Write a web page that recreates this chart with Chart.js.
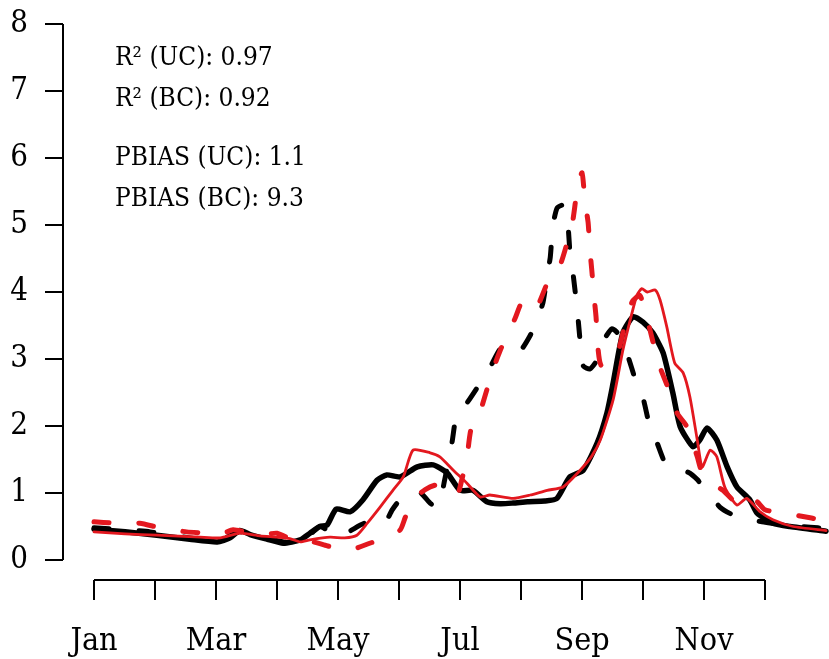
<!DOCTYPE html>
<html>
<head>
<meta charset="utf-8">
<script src="https://cdn.jsdelivr.net/npm/chart.js@4"></script>
<style>
  html, body { margin: 0; padding: 0; background: #fff; }
  #wrap { width: 829px; height: 659px; position: relative; }
</style>
</head>
<body>
<div id="wrap"><canvas id="flowChart"></canvas></div>
<script>
// month axis (x in months since Jan 1)
const monthLabels = ['Jan', 'Feb', 'Mar', 'Apr', 'May', 'Jun', 'Jul', 'Aug', 'Sep', 'Oct', 'Nov', 'Dec'];
const yTicks = [0, 1, 2, 3, 4, 5, 6, 7, 8];
const statLines = ['R\u00B2 (UC): 0.97', 'R\u00B2 (BC): 0.92', 'PBIAS (UC): 1.1', 'PBIAS (BC): 9.3'];

// black solid
const obsX = [0, 0.51, 1.03, 1.57, 2.02, 2.23, 2.39, 2.56, 2.84, 3.10, 3.38, 3.54, 3.70, 3.82, 3.97, 4.20, 4.41, 4.64, 4.80, 5.02, 5.30, 5.56, 5.79, 6.00, 6.21, 6.44, 6.66, 6.87, 7.11, 7.39, 7.59, 7.80, 8.02, 8.25, 8.41, 8.51, 8.67, 8.84, 9.00, 9.16, 9.33, 9.49, 9.61, 9.82, 9.93, 10.05, 10.21, 10.38, 10.54, 10.75, 10.87, 11.13, 11.41, 12.0];
const obsY = [0.46, 0.42, 0.37, 0.31, 0.27, 0.33, 0.44, 0.38, 0.31, 0.25, 0.30, 0.40, 0.50, 0.52, 0.76, 0.72, 0.90, 1.19, 1.27, 1.24, 1.39, 1.42, 1.30, 1.04, 1.04, 0.87, 0.84, 0.85, 0.87, 0.88, 0.92, 1.24, 1.34, 1.75, 2.20, 2.64, 3.39, 3.63, 3.55, 3.39, 3.09, 2.49, 1.99, 1.69, 1.79, 1.97, 1.79, 1.39, 1.09, 0.90, 0.70, 0.55, 0.50, 0.43];

// black dashed
const ucX = [0, 0.51, 0.92, 1.57, 2.02, 2.39, 2.84, 3.21, 3.54, 3.70, 3.87, 4.03, 4.23, 4.44, 4.74, 4.89, 5.02, 5.30, 5.51, 5.64, 5.75, 5.87, 5.95, 6.11, 6.33, 6.49, 6.66, 6.82, 6.98, 7.15, 7.26, 7.36, 7.43, 7.48, 7.52, 7.59, 7.69, 7.75, 7.80, 7.85, 7.92, 8.02, 8.13, 8.25, 8.34, 8.49, 8.62, 8.75, 8.89, 9.00, 9.11, 9.23, 9.36, 9.48, 9.61, 9.74, 9.89, 10.07, 10.26, 10.46, 10.70, 10.95, 11.36, 11.74, 12.0];
const ucY = [0.48, 0.45, 0.42, 0.33, 0.28, 0.42, 0.32, 0.26, 0.38, 0.50, 0.42, 0.34, 0.45, 0.55, 0.52, 0.75, 0.90, 1.04, 0.85, 0.78, 1.20, 1.76, 2.19, 2.34, 2.64, 2.87, 3.15, 3.22, 3.12, 3.35, 3.58, 3.84, 4.25, 4.52, 4.97, 5.25, 5.30, 5.22, 4.63, 4.30, 3.75, 2.90, 2.85, 2.99, 3.25, 3.45, 3.35, 3.05, 2.65, 2.42, 2.00, 1.75, 1.45, 1.36, 1.33, 1.31, 1.20, 1.00, 0.79, 0.68, 0.62, 0.57, 0.52, 0.49, 0.47];

// red dashed
const bcX = [0, 0.31, 0.51, 0.75, 1.08, 1.52, 1.85, 2.07, 2.28, 2.56, 2.80, 3.00, 3.33, 3.54, 3.79, 4.08, 4.28, 4.52, 4.80, 5.02, 5.10, 5.23, 5.43, 5.62, 5.87, 5.97, 6.03, 6.11, 6.18, 6.30, 6.44, 6.52, 6.66, 6.79, 6.90, 7.02, 7.15, 7.26, 7.44, 7.64, 7.77, 7.85, 7.92, 8.00, 8.05, 8.10, 8.13, 8.16, 8.20, 8.23, 8.26, 8.31, 8.46, 8.59, 8.70, 8.82, 8.95, 9.03, 9.11, 9.25, 9.41, 9.56, 9.72, 9.89, 9.97, 10.13, 10.31, 10.54, 10.70, 10.87, 11.0, 11.30, 11.74, 12.0];
const bcY = [0.57, 0.55, 0.52, 0.55, 0.48, 0.42, 0.40, 0.38, 0.45, 0.40, 0.38, 0.40, 0.27, 0.28, 0.22, 0.15, 0.17, 0.25, 0.34, 0.45, 0.63, 0.90, 1.05, 1.12, 0.97, 1.00, 1.20, 1.50, 1.95, 2.13, 2.54, 2.79, 3.13, 3.39, 3.60, 3.86, 3.88, 3.78, 4.15, 4.40, 4.78, 5.07, 5.52, 5.78, 5.34, 5.04, 4.63, 4.33, 3.91, 3.63, 3.18, 2.91, 2.92, 3.10, 3.50, 3.85, 3.95, 3.70, 3.45, 2.95, 2.57, 2.19, 1.99, 1.54, 1.30, 1.15, 1.04, 0.85, 0.93, 0.87, 0.75, 0.70, 0.63, 0.58];

// red solid (thin)
const bcObsX = [0, 0.51, 1.03, 1.74, 2.07, 2.39, 2.72, 3.00, 3.21, 3.38, 3.54, 3.87, 4.11, 4.31, 4.48, 4.69, 4.90, 5.07, 5.23, 5.51, 5.67, 5.89, 6.11, 6.33, 6.49, 6.87, 7.15, 7.43, 7.69, 7.97, 8.16, 8.30, 8.51, 8.67, 8.79, 8.90, 8.98, 9.07, 9.20, 9.28, 9.39, 9.52, 9.66, 9.77, 9.89, 9.97, 10.10, 10.21, 10.34, 10.54, 10.70, 10.92, 11.13, 11.46, 12.0];
const bcObsY = [0.42, 0.39, 0.37, 0.34, 0.33, 0.40, 0.36, 0.34, 0.32, 0.27, 0.30, 0.34, 0.33, 0.37, 0.55, 0.79, 1.04, 1.24, 1.64, 1.60, 1.54, 1.34, 1.15, 0.94, 0.97, 0.92, 0.97, 1.04, 1.09, 1.34, 1.55, 1.79, 2.39, 3.13, 3.58, 3.95, 4.05, 4.00, 4.03, 3.88, 3.48, 2.94, 2.79, 2.43, 1.79, 1.39, 1.64, 1.54, 1.09, 0.82, 0.92, 0.72, 0.60, 0.50, 0.44];

const FONT = "'DejaVu Serif Condensed', 'DejaVu Serif', serif";

function pts(xs, ys) {
    return xs.map((x, i) => ({ x: x, y: ys[i] }));
}

// R-style detached axes + the text block
const baseAxes = {
    id: 'baseAxes',
    afterDraw(chart) {
        const ctx = chart.ctx;
        const xs = chart.scales.x;
        const ys = chart.scales.y;
        ctx.save();
        ctx.strokeStyle = '#000';
        ctx.fillStyle = '#000';
        ctx.lineWidth = 2;
        ctx.lineCap = 'butt';

        // y axis
        const yAxisX = 63;
        ctx.beginPath();
        ctx.moveTo(yAxisX, ys.getPixelForValue(yTicks[0]));
        ctx.lineTo(yAxisX, ys.getPixelForValue(yTicks[yTicks.length - 1]));
        yTicks.forEach(t => {
            const py = ys.getPixelForValue(t);
            ctx.moveTo(yAxisX, py);
            ctx.lineTo(yAxisX - 18, py);
        });
        ctx.stroke();
        ctx.font = '31px ' + FONT;
        ctx.textAlign = 'right';
        ctx.textBaseline = 'middle';
        yTicks.forEach(t => {
            ctx.fillText(String(t), 28, ys.getPixelForValue(t));
        });

        // x axis
        const xAxisY = 580;
        ctx.beginPath();
        ctx.moveTo(xs.getPixelForValue(0), xAxisY);
        ctx.lineTo(xs.getPixelForValue(monthLabels.length - 1), xAxisY);
        monthLabels.forEach((m, i) => {
            const px = xs.getPixelForValue(i);
            ctx.moveTo(px, xAxisY);
            ctx.lineTo(px, xAxisY + 20);
        });
        ctx.stroke();
        ctx.font = '32px ' + FONT;
        ctx.textAlign = 'center';
        ctx.textBaseline = 'alphabetic';
        monthLabels.forEach((m, i) => {
            if (i % 2 === 0) ctx.fillText(m, xs.getPixelForValue(i), 650);
        });

        // stats
        ctx.font = '26px ' + FONT;
        ctx.textAlign = 'left';
        const baselines = [65, 106, 165, 206];
        statLines.forEach((s, i) => ctx.fillText(s, 115, baselines[i]));
        ctx.restore();
    }
};

const common = { pointRadius: 0, tension: 0.2, fill: false, clip: false, borderCapStyle: 'round', borderJoinStyle: 'round' };

new Chart(document.getElementById('flowChart'), {
    type: 'line',
    data: {
        datasets: [
            Object.assign({ label: 'BC obs', data: pts(bcObsX, bcObsY), borderColor: '#e3181f', borderWidth: 2.8 }, common),
            Object.assign({ label: 'BC', data: pts(bcX, bcY), borderColor: '#e3181f', borderWidth: 5, borderDash: [15, 30] }, common),
            Object.assign({ label: 'UC', data: pts(ucX, ucY), borderColor: '#000', borderWidth: 5, borderDash: [15, 30] }, common),
            Object.assign({ label: 'Obs', data: pts(obsX, obsY), borderColor: '#000', borderWidth: 5.5 }, common)
        ]
    },
    options: {
        responsive: true,
        maintainAspectRatio: false,
        animation: false,
        devicePixelRatio: 1,
        layout: { padding: { left: 94, right: 3, top: 24, bottom: 99 } },
        plugins: { legend: { display: false }, tooltip: { enabled: false } },
        scales: {
            x: { type: 'linear', min: 0, max: 12, display: false },
            y: { type: 'linear', min: 0, max: 8, display: false }
        }
    },
    plugins: [baseAxes]
});
</script>
</body>
</html>
